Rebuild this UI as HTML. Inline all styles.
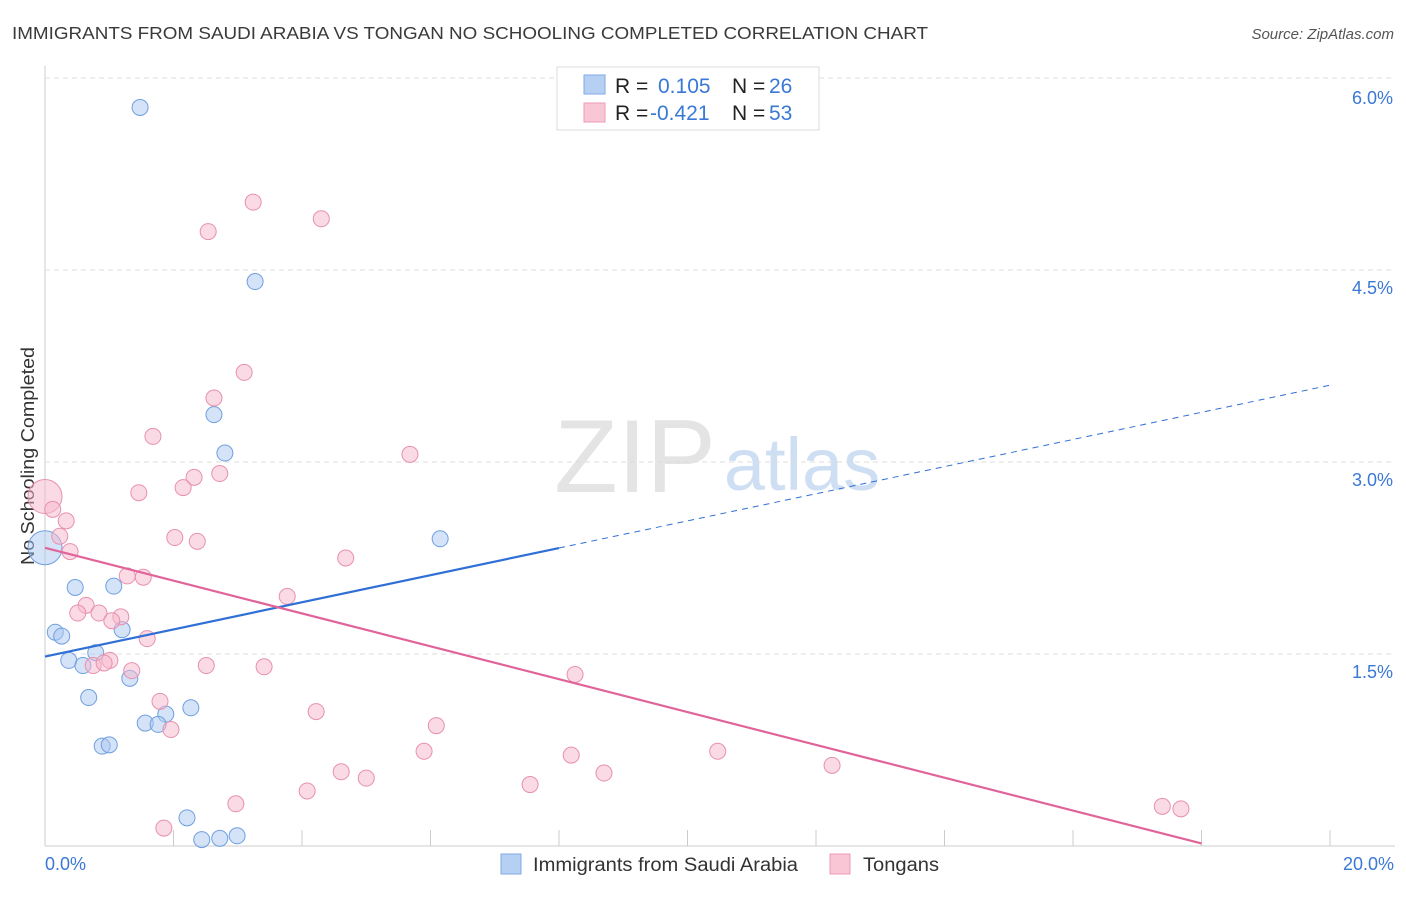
<!DOCTYPE html>
<html><head><meta charset="utf-8"><style>
body{margin:0;background:#fff;font-family:"Liberation Sans",sans-serif;}
svg text{font-family:"Liberation Sans",sans-serif;}
</style></head><body>
<svg id="chart" width="1406" height="892" xmlns="http://www.w3.org/2000/svg">
<text x="12" y="39" font-size="17.5" fill="#3a3a3a" textLength="916" lengthAdjust="spacingAndGlyphs">IMMIGRANTS FROM SAUDI ARABIA VS TONGAN NO SCHOOLING COMPLETED CORRELATION CHART</text>
<text x="1394" y="39" font-size="15" fill="#555" text-anchor="end" font-style="italic">Source: ZipAtlas.com</text>
<text transform="translate(34,456) rotate(-90)" font-size="18" fill="#333" text-anchor="middle" textLength="218" lengthAdjust="spacingAndGlyphs">No Schooling Completed</text>
<g>
<text x="635" y="492" font-size="104" fill="#e4e4e4" text-anchor="middle" font-family="Liberation Serif,serif">ZIP</text>
<text x="802" y="490" font-size="74" fill="#cfdff3" text-anchor="middle">atlas</text>
</g>
<g id="grid"></g><g id="pts"></g><g id="lines"></g>
<g>
<rect x="557" y="67" width="262" height="63" fill="#fff" stroke="#ddd"/>
<rect x="584" y="75" width="21" height="19" fill="#b5d0f3" stroke="#7faae6"/>
<rect x="584" y="103" width="21" height="19" fill="#f9c6d6" stroke="#ee9ab6"/>
<text x="615" y="93" font-size="21" fill="#222">R =</text><text x="658" y="93" font-size="21" fill="#3a78d6">0.105</text>
<text x="732" y="93" font-size="21" fill="#222">N =</text><text x="769" y="93" font-size="21" fill="#3a78d6">26</text>
<text x="615" y="120" font-size="21" fill="#222">R =</text><text x="650" y="120" font-size="21" fill="#3a78d6">-0.421</text>
<text x="732" y="120" font-size="21" fill="#222">N =</text><text x="769" y="120" font-size="21" fill="#3a78d6">53</text>
</g>
<g>
<rect x="501" y="854" width="20" height="20" fill="#b5d0f3" stroke="#7faae6"/>
<text x="533" y="871" font-size="19" fill="#333" textLength="265" lengthAdjust="spacingAndGlyphs">Immigrants from Saudi Arabia</text>
<rect x="830" y="854" width="20" height="20" fill="#f9c6d6" stroke="#ee9ab6"/>
<text x="863" y="871" font-size="19" fill="#333" textLength="76" lengthAdjust="spacingAndGlyphs">Tongans</text>
</g>
</svg>
<script>
const xTicks=[0,2,4,6,8,10,12,14,16,18,20];
const yTicks=[1.5,3.0,4.5,6.0];
const blueX=[1.48,3.27,2.63,2.80,6.15,0.0,0.47,1.07,0.16,0.26,1.20,0.79,0.37,0.59,1.32,0.68,2.27,1.88,1.56,1.76,0.89,1.00,2.21,2.44,2.72,2.99];
const blueY=[5.77,4.41,3.37,3.07,2.40,2.33,2.02,2.03,1.67,1.64,1.69,1.51,1.45,1.41,1.31,1.16,1.08,1.03,0.96,0.95,0.78,0.79,0.22,0.05,0.06,0.08];
const pinkX=[3.24,4.30,2.54,3.10,2.63,1.68,5.68,2.72,2.32,2.15,1.46,0,0.12,0.33,0.23,2.02,2.37,0.39,4.68,1.28,1.53,3.77,0.64,0.51,0.84,1.18,1.04,1.59,1.01,0.75,0.92,2.51,3.41,1.35,8.25,1.79,4.22,1.96,6.09,5.90,10.47,8.19,12.25,4.61,5.00,8.70,7.55,4.08,2.97,17.39,17.68,1.85];
const pinkY=[5.03,4.90,4.80,3.70,3.50,3.20,3.06,2.91,2.88,2.80,2.76,2.73,2.63,2.54,2.42,2.41,2.38,2.30,2.25,2.11,2.10,1.95,1.88,1.82,1.82,1.79,1.76,1.62,1.45,1.41,1.43,1.41,1.40,1.37,1.34,1.13,1.05,0.91,0.94,0.74,0.74,0.71,0.63,0.58,0.53,0.57,0.48,0.43,0.33,0.31,0.29,0.14];
const blueBig=[5], pinkBig=[11];
const blueLine=[1.48,3.60], pinkLine=[2.33,0.02], pinkLineEnd=18;
const X=v=>45+v*64.25, Y=v=>846-v*128;
const NS="http://www.w3.org/2000/svg";
function mk(t,a,p){const e=document.createElementNS(NS,t);for(const k in a)e.setAttribute(k,a[k]);p.appendChild(e);return e;}
const grid=document.getElementById('grid');
mk('line',{x1:45,y1:846,x2:1395,y2:846,stroke:'#ccc'},grid);
mk('line',{x1:45,y1:66,x2:45,y2:846,stroke:'#ccc'},grid);
mk('line',{x1:45,y1:78,x2:1395,y2:78,stroke:'#ddd','stroke-dasharray':'5,4'},grid);
yTicks.forEach(t=>{
 if(t<6){const l=mk('line',{x1:45,y1:Y(t),x2:1395,y2:Y(t),stroke:'#ddd','stroke-dasharray':'5,4'},grid);
 
 }
 const tx=mk('text',{x:1393,y:Y(t)+(t==6?26:24),'font-size':18,fill:'#3a78d6','text-anchor':'end'},grid);
 tx.textContent=t.toFixed(1)+'%';
 
 
});
xTicks.forEach(t=>{
 const l=mk('line',{x1:X(t),y1:846,x2:X(t),y2:830,stroke:'#ccc'},grid);
 
 
});
[[0,'start',45],[20,'end',1394]].forEach(([t,a,x])=>{
 const tx=mk('text',{x:x,y:870,'font-size':18,fill:'#3a78d6','text-anchor':a},grid);
 tx.textContent=t.toFixed(1)+'%';
 
 
});
const pts=document.getElementById('pts');
function draw(xs,ys,big,fill,stroke,name){
 xs.forEach((v,i)=>{
  const c=mk('circle',{cx:X(v),cy:Y(ys[i]),r:big.includes(i)?17:8,fill:fill,'fill-opacity':0.5,stroke:stroke,'stroke-width':1},pts);
  
  
 });
}
draw(blueX,blueY,blueBig,'#a9c8f0','#6f9fe0','saudi-point');
draw(pinkX,pinkY,pinkBig,'#f5b8cc','#e890ad','tongan-point');
const lines=document.getElementById('lines');
const bY=x=>blueLine[0]+(blueLine[1]-blueLine[0])*x/20;
let l=mk('line',{x1:X(0),y1:Y(bY(0)),x2:X(8),y2:Y(bY(8)),stroke:'#2f6fd6','stroke-width':2.2},lines);


l=mk('line',{x1:X(8),y1:Y(bY(8)),x2:X(20),y2:Y(bY(20)),stroke:'#2f6fd6','stroke-width':1,'stroke-dasharray':'6,5'},lines);


l=mk('line',{x1:X(0),y1:Y(pinkLine[0]),x2:X(pinkLineEnd),y2:Y(pinkLine[1]),stroke:'#e0649a','stroke-width':2.2},lines);


</script>
</body></html>
